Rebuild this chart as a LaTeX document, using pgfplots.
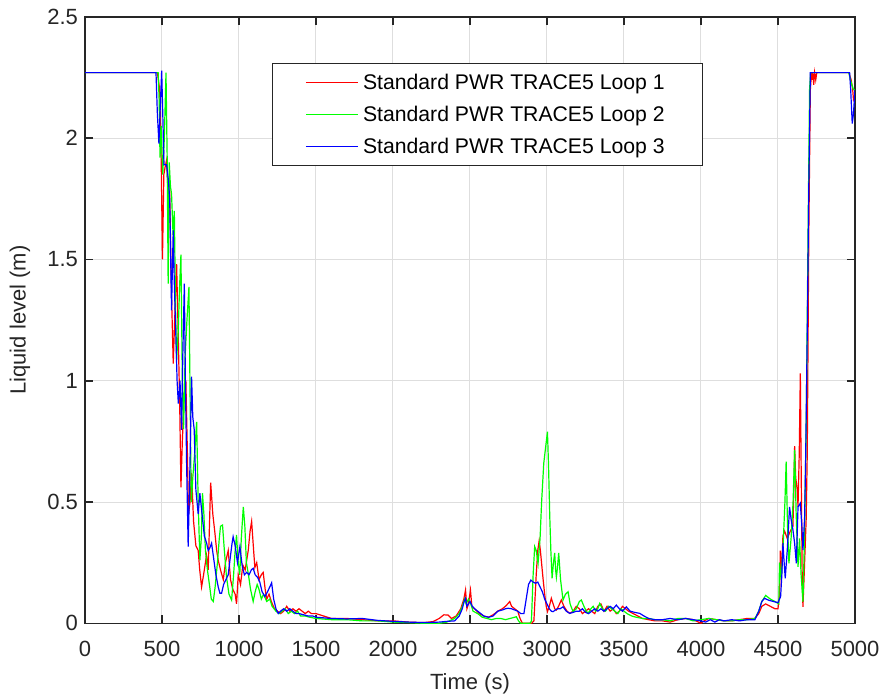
\documentclass[border=0pt]{standalone}
\usepackage{fontspec}
\setmainfont{Liberation Sans}
\usepackage{pgfplots}
\pgfplotsset{compat=1.18}

\definecolor{axcol}{rgb}{0.15,0.15,0.15}
\definecolor{gridcol}{rgb}{0.87,0.87,0.87}
\definecolor{loopone}{rgb}{1,0,0}
\definecolor{looptwo}{rgb}{0,1,0}
\definecolor{loopthree}{rgb}{0,0,1}

\begin{document}
\begin{tikzpicture}
\useasboundingbox (-42.5pt,-37.35pt) rectangle (399pt,311.65pt);
\begin{axis}[
  at={(0,0)}, anchor=south west,
  scale only axis, width=385pt, height=303.25pt,
  xmin=0, xmax=5000, ymin=0, ymax=2.5,
  xtick={0,500,...,5000}, ytick={0,0.5,1,1.5,2,2.5},
  grid=major, grid style={color=gridcol, line width=0.5pt},
  axis line style={color=axcol, line width=0.8pt},
  tick style={color=axcol, line width=0.8pt},
  tick align=inside, major tick length=4pt,
  xtick pos=both, ytick pos=both,
  scaled ticks=false,
  /pgf/number format/assume math mode=true,
  /pgf/number format/1000 sep={},
  tick label style={font=\fontsize{11}{13}\selectfont, color=axcol},
  xticklabel style={yshift=-5.5pt},
  label style={font=\fontsize{11}{13}\selectfont, color=axcol},
  xlabel={Time (s)}, ylabel={Liquid level (m)},
  xlabel style={at={(axis description cs:0.5,-0.099)}, anchor=center},
  ylabel style={at={(axis description cs:-0.0844,0.5)}, anchor=center},
  legend cell align=left,
  legend image code/.code={\draw[#1] (0pt,0pt) -- (26pt,0pt);},
  legend style={at={(rel axis cs:0.2425,0.9233)}, anchor=north west,
    draw=axcol, line width=0.5pt, fill=white,
    font=\fontsize{10.6}{12}\selectfont,
    inner xsep=16.5pt, inner ysep=1.5pt,
    nodes={inner xsep=2.3pt, inner ysep=3pt, text height=8.5pt, text depth=1.5pt}},
]

% Loop 1
\addplot [loopone, line width=0.6pt] coordinates {
(0,2.27) (470,2.27) (485,2.2) (495,1.9) (503,1.5) (512,1.85) (520,1.88) (530,1.91)
(540,1.76) (550,1.78) (560,1.4) (573,1.07) (585,1.3) (595,1.48) (605,1.2) (615,0.9)
(623,0.56) (632,0.75) (645,0.95) (655,1.0) (665,0.7) (672,0.45) (682,0.5) (692,0.62)
(705,0.42) (720,0.32) (735,0.3) (745,0.22) (757,0.15) (770,0.2) (789,0.28) (800,0.22)
(808,0.4) (816,0.58) (830,0.45) (844,0.37) (855,0.3) (865,0.26) (880,0.22) (898,0.18)
(912,0.25) (930,0.3) (945,0.18) (960,0.14) (975,0.12) (984,0.08) (995,0.2) (1010,0.16)
(1025,0.24) (1040,0.22) (1060,0.3) (1072,0.38) (1082,0.42) (1095,0.3) (1103,0.23)
(1115,0.25) (1130,0.18) (1145,0.2) (1157,0.21) (1170,0.14) (1180,0.1) (1195,0.12)
(1210,0.09) (1230,0.06) (1250,0.05) (1270,0.04) (1290,0.05) (1310,0.07) (1330,0.05)
(1350,0.06) (1370,0.05) (1390,0.06) (1410,0.05) (1430,0.04) (1450,0.05) (1470,0.04)
(1500,0.04) (1550,0.03) (1600,0.02) (1700,0.02) (1800,0.015) (1900,0.01) (2000,0.01)
(2100,0.005) (2200,0.003) (2260,0.007) (2300,0.02) (2330,0.035) (2358,0.034) (2380,0.02)
(2410,0.03) (2440,0.06) (2460,0.1) (2471,0.137) (2480,0.06) (2490,0.08) (2503,0.137)
(2512,0.07) (2530,0.06) (2560,0.04) (2590,0.03) (2620,0.025) (2650,0.035) (2680,0.05)
(2710,0.06) (2730,0.07) (2745,0.08) (2758,0.09) (2770,0.07) (2790,0.06) (2810,0.05)
(2825,0.02) (2840,0) (2900,0) (2915,0.01) (2930,0.2) (2940,0.3) (2949,0.34) (2957,0.3)
(2963,0.26) (2975,0.18) (2985,0.12) (2995,0.07) (3003,0.048) (3015,0.07) (3028,0.103)
(3040,0.08) (3050,0.06) (3061,0.055) (3075,0.07) (3093,0.096) (3110,0.07) (3130,0.05)
(3148,0.041) (3170,0.05) (3190,0.07) (3210,0.06) (3230,0.04) (3250,0.05) (3270,0.06)
(3290,0.05) (3310,0.04) (3330,0.07) (3350,0.08) (3370,0.05) (3390,0.07) (3410,0.05)
(3430,0.06) (3450,0.04) (3470,0.05) (3490,0.07) (3510,0.06) (3530,0.05) (3560,0.04)
(3590,0.03) (3620,0.02) (3660,0.015) (3700,0.01) (3750,0.01) (3800,0.005) (3850,0.015)
(3900,0.02) (3950,0.015) (4000,0) (4020,0.01) (4050,0.02) (4100,0.015) (4150,0.01)
(4200,0.01) (4250,0.015) (4300,0.02) (4350,0.02) (4375,0.04) (4395,0.07) (4420,0.08)
(4450,0.07) (4480,0.06) (4500,0.06) (4510,0.12) (4515,0.3) (4522,0.2) (4532,0.36)
(4543,0.38) (4560,0.35) (4580,0.38) (4597,0.4) (4603,0.55) (4608,0.73) (4615,0.6)
(4625,0.55) (4630,0.48) (4638,0.7) (4645,1.03) (4651,0.6) (4657,0.2) (4662,0.068)
(4670,0.2) (4683,0.43) (4690,0.7) (4700,1.6) (4710,2.2) (4718,2.27) (4722,2.24)
(4726,2.27) (4732,2.22) (4738,2.27) (4745,2.24) (4752,2.27) (4800,2.27) (4900,2.27)
(4960,2.27) (4975,2.24) (4985,2.2) (4990,2.16) (5000,2.18)
};
\addlegendentry{Standard PWR TRACE5 Loop 1}

% Loop 2
\addplot [looptwo, line width=0.6pt] coordinates {
(0,2.27) (475,2.27) (482,2.15) (487,1.92) (495,2.05) (505,1.85) (515,2.0) (526,2.27)
(534,1.9) (540,1.4) (547,1.9) (555,1.8) (562,1.77) (572,1.6) (580,1.7) (588,1.3)
(595,1.085) (605,1.2) (615,1.4) (623,1.52) (632,1.0) (640,0.8) (650,1.1) (662,1.25)
(675,1.387) (683,0.9) (690,0.5) (700,0.6) (712,0.7) (725,0.83) (735,0.5) (746,0.26)
(755,0.35) (763,0.536) (772,0.45) (782,0.3) (795,0.22) (810,0.15) (820,0.1) (833,0.09)
(845,0.15) (860,0.25) (872,0.35) (880,0.4) (893,0.405) (905,0.3) (919,0.19) (935,0.12)
(952,0.096) (965,0.2) (975,0.3) (984,0.364) (995,0.25) (1005,0.2) (1015,0.35) (1028,0.48)
(1038,0.4) (1048,0.25) (1060,0.206) (1075,0.14) (1092,0.09) (1105,0.13) (1118,0.16)
(1130,0.14) (1145,0.1) (1160,0.12) (1180,0.09) (1200,0.1) (1215,0.07) (1240,0.05)
(1260,0.04) (1280,0.05) (1300,0.06) (1320,0.04) (1340,0.05) (1360,0.04) (1380,0.05)
(1400,0.03) (1430,0.03) (1460,0.025) (1500,0.02) (1600,0.015) (1700,0.015) (1800,0.01)
(1900,0.01) (2000,0.005) (2100,0.003) (2200,0) (2300,0) (2350,0.005) (2400,0.02)
(2430,0.04) (2450,0.07) (2465,0.1) (2475,0.08) (2490,0.1) (2505,0.08) (2520,0.05)
(2550,0.04) (2580,0.025) (2610,0.02) (2640,0.015) (2670,0.02) (2700,0.02) (2730,0.015)
(2760,0.02) (2790,0.025) (2801,0.027) (2815,0.01) (2830,0) (2890,0) (2899,0.01)
(2910,0.2) (2920,0.316) (2930,0.3) (2942,0.247) (2955,0.35) (2965,0.5) (2979,0.66)
(2990,0.72) (3003,0.79) (3010,0.65) (3018,0.44) (3025,0.3) (3033,0.185) (3042,0.25)
(3050,0.29) (3056,0.22) (3061,0.19) (3068,0.23) (3076,0.29) (3088,0.18) (3104,0.096)
(3120,0.12) (3137,0.13) (3150,0.08) (3169,0.048) (3190,0.06) (3210,0.09) (3223,0.096)
(3240,0.07) (3255,0.05) (3267,0.041) (3285,0.06) (3300,0.07) (3315,0.05) (3330,0.06)
(3342,0.082) (3360,0.06) (3380,0.05) (3400,0.07) (3420,0.06) (3440,0.05) (3460,0.04)
(3480,0.06) (3500,0.05) (3520,0.04) (3550,0.03) (3580,0.025) (3620,0.02) (3660,0.02)
(3700,0.015) (3750,0.015) (3800,0.01) (3850,0.02) (3900,0.02) (3950,0.01) (4000,0.015)
(4050,0.02) (4100,0.015) (4150,0.01) (4200,0.01) (4250,0.015) (4300,0.015) (4350,0.02)
(4375,0.05) (4395,0.09) (4420,0.115) (4450,0.1) (4480,0.09) (4505,0.08) (4510,0.25)
(4520,0.18) (4532,0.3) (4545,0.5) (4553,0.666) (4562,0.4) (4571,0.247) (4585,0.35)
(4598,0.5) (4608,0.714) (4618,0.45) (4630,0.233) (4640,0.35) (4650,0.2) (4662,0.089)
(4670,0.3) (4683,0.8) (4695,1.6) (4705,2.2) (4712,2.27) (4960,2.27) (4970,2.24)
(4980,2.22) (4990,2.2) (5000,2.2)
};
\addlegendentry{Standard PWR TRACE5 Loop 2}

% Loop 3
\addplot [loopthree, line width=0.6pt] coordinates {
(0,2.27) (461,2.27) (470,2.1) (480,1.977) (490,2.15) (498,2.278) (505,2.1) (513,1.89)
(530,1.89) (541,1.83) (550,1.75) (562,1.29) (567,1.45) (573,1.62) (580,1.4) (589,1.21)
(598,1.0) (606,0.906) (612,0.95) (617,1.0) (622,0.9) (627,0.797) (635,1.1) (645,1.4)
(652,1.0) (660,0.65) (670,0.316) (680,0.6) (692,1.017) (700,0.85) (709,0.8) (720,0.55)
(735,0.45) (746,0.536) (760,0.45) (775,0.36) (790,0.33) (800,0.3) (810,0.31) (822,0.33)
(835,0.27) (850,0.2) (865,0.15) (876,0.124) (887,0.124) (900,0.16) (915,0.18) (930,0.2)
(945,0.28) (955,0.33) (962,0.357) (975,0.32) (990,0.25) (1006,0.316) (1020,0.24)
(1035,0.2) (1050,0.21) (1065,0.2) (1080,0.22) (1092,0.227) (1105,0.2) (1120,0.19)
(1135,0.17) (1150,0.13) (1168,0.11) (1185,0.13) (1200,0.15) (1212,0.167) (1225,0.1)
(1240,0.06) (1255,0.04) (1270,0.05) (1290,0.06) (1310,0.05) (1330,0.06) (1350,0.05)
(1370,0.04) (1390,0.04) (1420,0.035) (1450,0.03) (1480,0.03) (1500,0.025) (1600,0.02)
(1700,0.018) (1800,0.02) (1900,0.012) (2000,0.008) (2100,0.005) (2200,0.003) (2300,0.005)
(2350,0.008) (2400,0.01) (2430,0.03) (2450,0.06) (2462,0.09) (2471,0.103) (2480,0.07)
(2490,0.08) (2500,0.09) (2515,0.07) (2530,0.06) (2560,0.045) (2590,0.03) (2620,0.025)
(2650,0.03) (2680,0.05) (2710,0.055) (2730,0.06) (2747,0.062) (2770,0.06) (2790,0.055)
(2810,0.05) (2830,0.04) (2850,0.04) (2865,0.1) (2880,0.16) (2895,0.178) (2910,0.17)
(2925,0.165) (2940,0.17) (2955,0.15) (2970,0.13) (2985,0.1) (3000,0.08) (3015,0.06)
(3028,0.05) (3039,0.048) (3055,0.055) (3070,0.06) (3085,0.06) (3104,0.068) (3125,0.05)
(3148,0.041) (3170,0.045) (3190,0.05) (3210,0.05) (3230,0.06) (3250,0.045) (3270,0.04)
(3290,0.05) (3310,0.06) (3330,0.05) (3350,0.06) (3370,0.05) (3390,0.06) (3410,0.07)
(3430,0.06) (3450,0.075) (3470,0.06) (3490,0.05) (3515,0.068) (3540,0.05) (3570,0.045)
(3602,0.041) (3630,0.03) (3660,0.02) (3700,0.015) (3750,0.015) (3800,0.02) (3850,0.015)
(3900,0.02) (3950,0.015) (4000,0.01) (4030,0.005) (4060,0.015) (4090,0.005) (4120,0.015)
(4150,0.01) (4200,0.015) (4250,0.01) (4300,0.015) (4350,0.015) (4375,0.05) (4395,0.09)
(4413,0.103) (4440,0.095) (4470,0.09) (4500,0.085) (4510,0.1) (4517,0.11) (4525,0.2)
(4532,0.33) (4540,0.25) (4547,0.185) (4560,0.3) (4575,0.48) (4585,0.43) (4597,0.385)
(4608,0.33) (4619,0.247) (4630,0.48) (4645,0.495) (4655,0.4) (4662,0.302) (4673,0.44)
(4680,0.7) (4690,1.2) (4700,1.8) (4710,2.27) (4965,2.27) (4972,2.2) (4982,2.06)
(4990,2.1) (5000,2.2)
};
\addlegendentry{Standard PWR TRACE5 Loop 3}

\end{axis}
\end{tikzpicture}
\end{document}
